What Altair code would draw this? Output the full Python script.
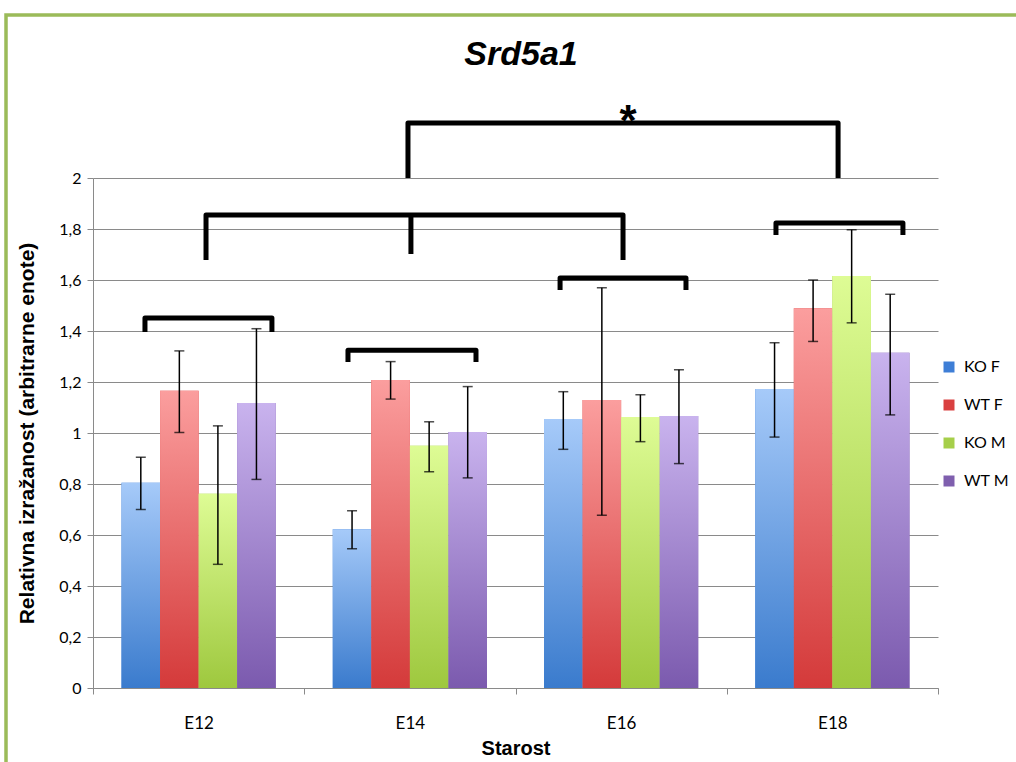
import altair as alt
import pandas as pd

# ---------------- data ----------------
categories = ["E12", "E14", "E16", "E18"]
series = ["KO F", "WT F", "KO M", "WT M"]

values = {
    "KO F": [0.805, 0.623, 1.055, 1.173],
    "WT F": [1.166, 1.208, 1.129, 1.489],
    "KO M": [0.762, 0.950, 1.063, 1.616],
    "WT M": [1.118, 1.004, 1.067, 1.315],
}
err_high = {
    "KO F": [0.905, 0.695, 1.162, 1.354],
    "WT F": [1.322, 1.280, 1.570, 1.600],
    "KO M": [1.028, 1.044, 1.150, 1.797],
    "WT M": [1.409, 1.182, 1.248, 1.544],
}
err_low = {
    "KO F": [0.700, 0.546, 0.936, 0.984],
    "WT F": [1.002, 1.133, 0.677, 1.359],
    "KO M": [0.485, 0.848, 0.966, 1.432],
    "WT M": [0.818, 0.824, 0.880, 1.071],
}

y_ticks = [0, 0.2, 0.4, 0.6, 0.8, 1.0, 1.2, 1.4, 1.6, 1.8, 2.0]

# significance brackets (x in category units 0..4, y in data units)
bracket_ids = ["b12", "b14", "b16", "b18", "big", "top"]
bracket_x1 = [0.246, 1.207, 2.211, 3.233, 0.535, 1.491]
bracket_x2 = [0.847, 1.813, 2.807, 3.834, 2.509, 3.527]
bracket_top = [1.451, 1.325, 1.608, 1.824, 1.855, 2.216]
bracket_leg = [1.396, 1.278, 1.561, 1.776, 1.678, 2.000]
mid_leg_x = [1.505]
mid_leg_top = [1.855]
mid_leg_bottom = [1.702]
star_x = [2.533]
star_y = [2.255]

solid_colors = ["#3E7ED6", "#D94040", "#A6CF4A", "#7F5FAE"]
grad_top = ["#A6CAF9", "#FB9E9E", "#DEFC95", "#C9B3EE"]
grad_bottom = ["#3A7BCD", "#D43A3A", "#9EC83E", "#7B5AAE"]

# ---------------- tables ----------------
rows = []
for s in series:
    for i, c in enumerate(categories):
        rows.append({"group": c, "series": s, "value": values[s][i],
                     "lo": err_low[s][i], "hi": err_high[s][i]})
df = pd.DataFrame(rows)

brows = []
for k, bid in enumerate(bracket_ids):
    pts = [(bracket_x1[k], bracket_leg[k]), (bracket_x1[k], bracket_top[k]),
           (bracket_x2[k], bracket_top[k]), (bracket_x2[k], bracket_leg[k])]
    for o, (px, py) in enumerate(pts):
        brows.append({"id": bid, "ord": o, "bx": px, "by": py})
for k in range(len(mid_leg_x)):
    brows.append({"id": f"mid{k}", "ord": 0, "bx": mid_leg_x[k], "by": mid_leg_top[k]})
    brows.append({"id": f"mid{k}", "ord": 1, "bx": mid_leg_x[k], "by": mid_leg_bottom[k]})
bdf = pd.DataFrame(brows)
sdf = pd.DataFrame({"sx": star_x, "sy": star_y, "t": ["*"] * len(star_x)})

W, H = 845, 510
PAD_L, PAD_T = 93, 178

y_scale = alt.Scale(domain=[0, 2], nice=False, zero=True)
x_scale = alt.Scale(domain=categories, paddingInner=0, paddingOuter=0)
xo_scale = alt.Scale(domain=series, paddingInner=0, paddingOuter=0.74)

x_axis = alt.Axis(labelAngle=0, tickBand="extent", grid=False, domainColor="#8A8A8A",
                  tickColor="#8A8A8A", tickSize=6, labelPadding=21, labelFont="Lato",
                  labelFontSize=17, labelColor="black", titleFont="Liberation Sans",
                  titleFontWeight="bold", titleFontSize=20, titleColor="black",
                  titleY=50, titleBaseline="top")
y_axis = alt.Axis(values=y_ticks, grid=True, gridColor="#8A8A8A", gridWidth=1,
                  domainColor="#8A8A8A", tickColor="#8A8A8A", tickSize=6,
                  labelFont="Lato", labelFontSize=16, labelColor="black", labelPadding=6,
                  labelExpr="replace(format(datum.value, '~g'), '.', ',')",
                  titleFont="Liberation Sans", titleFontWeight="bold", titleFontSize=21,
                  titleColor="black", titleX=-66, titleY=H / 2, titleAngle=-90,
                  titleBaseline="middle", titleAlign="center")
Ttl = "Relativna izražanost (arbitrarne enote)"
Xt = "Starost"


def Yq(field):
    return alt.Y(field, scale=y_scale, axis=y_axis, title=Ttl)


base = alt.Chart(df)
X = alt.X("group:N", scale=x_scale, axis=x_axis, title=Xt)
XO = alt.XOffset("series:N", scale=xo_scale)

solid = base.mark_bar().encode(
    x=X, xOffset=XO, y=Yq("value:Q"),
    color=alt.Color("series:N", scale=alt.Scale(domain=series, range=solid_colors),
                    legend=alt.Legend(orient="none", legendX=848, legendY=181, title=None,
                                      symbolType="square", symbolSize=121,
                                      symbolStrokeWidth=0, labelFont="Lato",
                                      labelFontSize=16, labelColor="black",
                                      rowPadding=22, labelOffset=7, padding=0)),
)

grad_layers = []
for k, s in enumerate(series):
    g = alt.LinearGradient(gradient="linear", x1=0, y1=0, x2=0, y2=1,
                           stops=[alt.GradientStop(color=grad_top[k], offset=0),
                                  alt.GradientStop(color=grad_bottom[k], offset=1)])
    grad_layers.append(
        base.transform_filter(alt.datum.series == s).mark_bar(color=g).encode(
            x=X, xOffset=XO, y=Yq("value:Q")))

err_rule = base.mark_rule(color="black", strokeWidth=1.5).encode(
    x=X, xOffset=XO, y=Yq("lo:Q"), y2="hi:Q")
cap_lo = base.mark_tick(color="black", size=10, thickness=1.5).encode(
    x=X, xOffset=XO, y=Yq("lo:Q"))
cap_hi = base.mark_tick(color="black", size=10, thickness=1.5).encode(
    x=X, xOffset=XO, y=Yq("hi:Q"))

bars_group = alt.layer(solid, *grad_layers, err_rule, cap_lo, cap_hi)

bx_scale = alt.Scale(domain=[0, 4], nice=False, zero=False)
brackets = alt.Chart(bdf).mark_line(color="black", strokeWidth=5, strokeJoin="round",
                                    strokeCap="butt").encode(
    x=alt.X("bx:Q", scale=bx_scale, axis=None),
    y=Yq("by:Q"),
    detail="id:N", order="ord:Q")
star = alt.Chart(sdf).mark_text(font="Liberation Sans", fontWeight="bold", fontSize=44,
                                baseline="alphabetic", align="center", dy=23,
                                color="black").encode(
    x=alt.X("sx:Q", scale=bx_scale, axis=None),
    y=Yq("sy:Q"),
    text="t:N")
bracket_group = alt.layer(brackets, star)

frame = alt.Chart(pd.DataFrame({"a": [0]})).mark_rect(
    fill=None, stroke="#9BBB59", strokeWidth=3.5).encode(
    x=alt.value(6 - PAD_L), x2=alt.value(1200), y=alt.value(15 - PAD_T), y2=alt.value(900))

title = alt.Chart(pd.DataFrame({"t": ["Srd5a1"]})).mark_text(
    font="Liberation Sans", fontWeight="bold", fontStyle="italic", fontSize=34,
    baseline="alphabetic", align="center", color="black").encode(
    text="t:N", x=alt.value(521 - PAD_L), y=alt.value(65 - PAD_T))

chart = alt.layer(frame, bars_group, bracket_group, title).resolve_scale(
    x="independent"
).properties(
    width=W, height=H,
    autosize=alt.AutoSizeParams(type="none"),
    padding={"left": PAD_L, "top": PAD_T, "right": 1016 - PAD_L - W, "bottom": 762 - PAD_T - H},
    background="white",
).configure_view(stroke=None)

chart.save("out.html", embed_options={"renderer": "svg", "actions": False})
